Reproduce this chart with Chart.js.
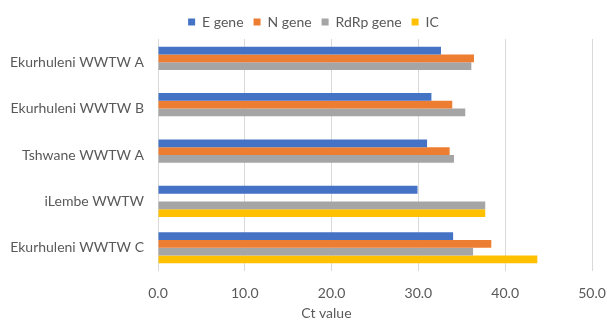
<!DOCTYPE html>
<html>
<head>
<meta charset="utf-8">
<script src="https://cdn.jsdelivr.net/npm/chart.js@4/dist/chart.umd.min.js"></script>
<style>
  html, body { margin: 0; padding: 0; background: #ffffff; }
  #c { display: block; }
</style>
</head>
<body>
<canvas id="c" width="607" height="326"></canvas>
<script>
// Ct values per wastewater treatment works and target
const sites = ['Ekurhuleni WWTW A', 'Ekurhuleni WWTW B', 'Tshwane WWTW A', 'iLembe WWTW', 'Ekurhuleni WWTW C'];
const eGene = [32.6, 31.5, 31.0, 29.9, 34.0];
const nGene = [36.4, 33.9, 33.6, null, 38.4];
const rdrpGene = [36.1, 35.4, 34.1, 37.7, 36.3];
const icControl = [null, null, null, 37.7, 43.7];
const seriesNames = ['E gene', 'N gene', 'RdRp gene', 'IC'];
const xTicks = [0, 10, 20, 30, 40, 50];
const xAxisTitle = 'Ct value';

const colors = ['#4472C4', '#ED7D31', '#A5A5A5', '#FFC000'];
const textColor = '#595959';
const fontFamily = 'Lato, "Open Sans", sans-serif';

// nudge the legend row to the right so it sits over the plot
const legendShift = {
  id: 'legendShift',
  afterLayout(chart) {
    const lg = chart.legend;
    if (!lg) return;
    lg.left += 10;
    lg.right += 10;
    (lg.legendHitBoxes || []).forEach(b => { b.left += 10; });
  }
};

// axis title under the value axis, centred near the middle of the 0–40 span
const valueAxisTitle = {
  id: 'valueAxisTitle',
  afterDraw(chart) {
    const xs = chart.scales.x;
    const ctx = chart.ctx;
    ctx.save();
    ctx.fillStyle = textColor;
    ctx.font = '14px ' + fontFamily;
    ctx.textAlign = 'center';
    ctx.textBaseline = 'middle';
    ctx.fillText(xAxisTitle, xs.getPixelForValue(19.4), xs.bottom - 13);
    ctx.restore();
  }
};

const data = {
  labels: sites,
  datasets: [eGene, nGene, rdrpGene, icControl].map((vals, i) => ({
    label: seriesNames[i],
    data: vals,
    backgroundColor: colors[i],
    borderWidth: 0,
    categoryPercentage: 0.67,
    barPercentage: 1.0
  }))
};

new Chart(document.getElementById('c'), {
  type: 'bar',
  data,
  plugins: [legendShift, valueAxisTitle],
  options: {
    indexAxis: 'y',
    responsive: false,
    devicePixelRatio: 1,
    animation: false,
    layout: { padding: { top: 5, right: 0, left: 0, bottom: 0 } },
    plugins: {
      tooltip: { enabled: false },
      legend: {
        position: 'top',
        labels: {
          boxWidth: 7,
          boxHeight: 7,
          padding: 10,
          color: textColor,
          font: { family: fontFamily, size: 14 }
        }
      }
    },
    scales: {
      x: {
        min: xTicks[0],
        max: xTicks[xTicks.length - 1],
        afterBuildTicks: (scale) => { scale.ticks = xTicks.map(v => ({ value: v })); },
        afterFit: (scale) => { scale.height = 55; scale.paddingRight = 15; },
        border: { display: false },
        grid: { color: '#D9D9D9', drawTicks: false, lineWidth: 1 },
        ticks: {
          padding: 14,
          color: textColor,
          font: { family: fontFamily, size: 14 },
          callback: (v) => Number(v).toFixed(1)
        },
        title: { display: false }
      },
      y: {
        afterFit: (scale) => { scale.width = 158; },
        border: { display: false },
        grid: { display: false, drawTicks: false },
        ticks: {
          padding: 14,
          color: textColor,
          font: { family: fontFamily, size: 14 }
        }
      }
    }
  }
});
</script>
</body>
</html>
